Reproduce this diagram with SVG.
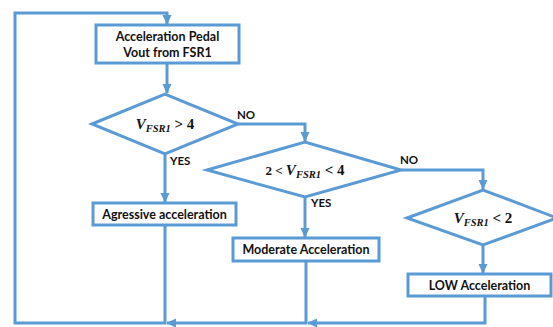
<svg xmlns="http://www.w3.org/2000/svg" width="553" height="327" viewBox="0 0 553 327">
<style>
.shape{fill:#fff;stroke:#5B9BD5;stroke-width:3}
.conn{fill:none;stroke:#5B9BD5;stroke-width:3}
.lbl{font-family:"Lato","Liberation Sans",sans-serif;font-weight:bold;font-size:12.5px;fill:#111;text-anchor:middle}
.small{font-family:"Lato","Liberation Sans",sans-serif;font-weight:bold;font-size:11.5px;fill:#111}
.math{font-family:"Liberation Serif","DejaVu Serif",serif;font-weight:bold;font-size:15px;fill:#111;text-anchor:middle}
.it{font-style:italic}
.sub{font-style:italic;font-size:10.5px}
</style>
<defs>
<marker id="ah" markerUnits="userSpaceOnUse" markerWidth="10" markerHeight="10" viewBox="0 0 10 10" refX="9" refY="5" orient="auto">
<path d="M0,0.5 L10,5 L0,9.5 Z" fill="#5B9BD5"/>
</marker>
</defs>
<g id="connectors">
<path class="conn" d="M165,226 V323 H15 V13 H167 V24" marker-end="url(#ah)"/>
<path class="conn" d="M167,63 V93" marker-end="url(#ah)"/>
<path class="conn" d="M165,154 V202" marker-end="url(#ah)"/>
<path class="conn" d="M238,124 H305 V141" marker-end="url(#ah)"/>
<path class="conn" d="M305,197 V237" marker-end="url(#ah)"/>
<path class="conn" d="M401,170 H483 V189" marker-end="url(#ah)"/>
<path class="conn" d="M483,245 V273" marker-end="url(#ah)"/>
<path class="conn" d="M485,297 V323 H308" marker-end="url(#ah)"/>
<path class="conn" d="M306,262 V323 H167" marker-end="url(#ah)"/>
<text class="small" x="237" y="119">NO</text>
<text class="small" x="170" y="165">YES</text>
<text class="small" x="400" y="164">NO</text>
<text class="small" x="311" y="207">YES</text>
</g>
<g id="start">
<rect class="shape" x="96" y="25" width="143" height="38"/>
<text class="lbl" x="167.5" y="41">Acceleration Pedal</text>
<text class="lbl" x="167.5" y="57">Vout from FSR1</text>
</g>
<g id="decision1">
<polygon class="shape" points="92,124 165,94 238,124 165,154"/>
<text class="math" x="165" y="129"><tspan class="it">V</tspan><tspan class="sub" dy="3">FSR1</tspan><tspan dy="-3"> &gt; 4</tspan></text>
</g>
<g id="aggressive">
<rect class="shape" x="93" y="203" width="143" height="22"/>
<text class="lbl" x="164.5" y="218.5">Agressive acceleration</text>
</g>
<g id="decision2">
<polygon class="shape" points="207,170 305,142 401,170 305,197"/>
<text class="math" x="305" y="175"><tspan font-size="13">2 &lt; </tspan><tspan class="it">V</tspan><tspan class="sub" dy="3">FSR1</tspan><tspan dy="-3"> &lt; 4</tspan></text>
</g>
<g id="moderate">
<rect class="shape" x="233" y="238" width="146" height="23"/>
<text class="lbl" x="306" y="254">Moderate Acceleration</text>
</g>
<g id="decision3">
<polygon class="shape" points="407,218 483,190 557,218 483,245"/>
<text class="math" x="483" y="223"><tspan class="it">V</tspan><tspan class="sub" dy="3">FSR1</tspan><tspan dy="-3"> &lt; 2</tspan></text>
</g>
<g id="low">
<rect class="shape" x="408" y="274" width="143" height="22"/>
<text class="lbl" x="479.5" y="289.5">LOW Acceleration</text>
</g>
</svg>
